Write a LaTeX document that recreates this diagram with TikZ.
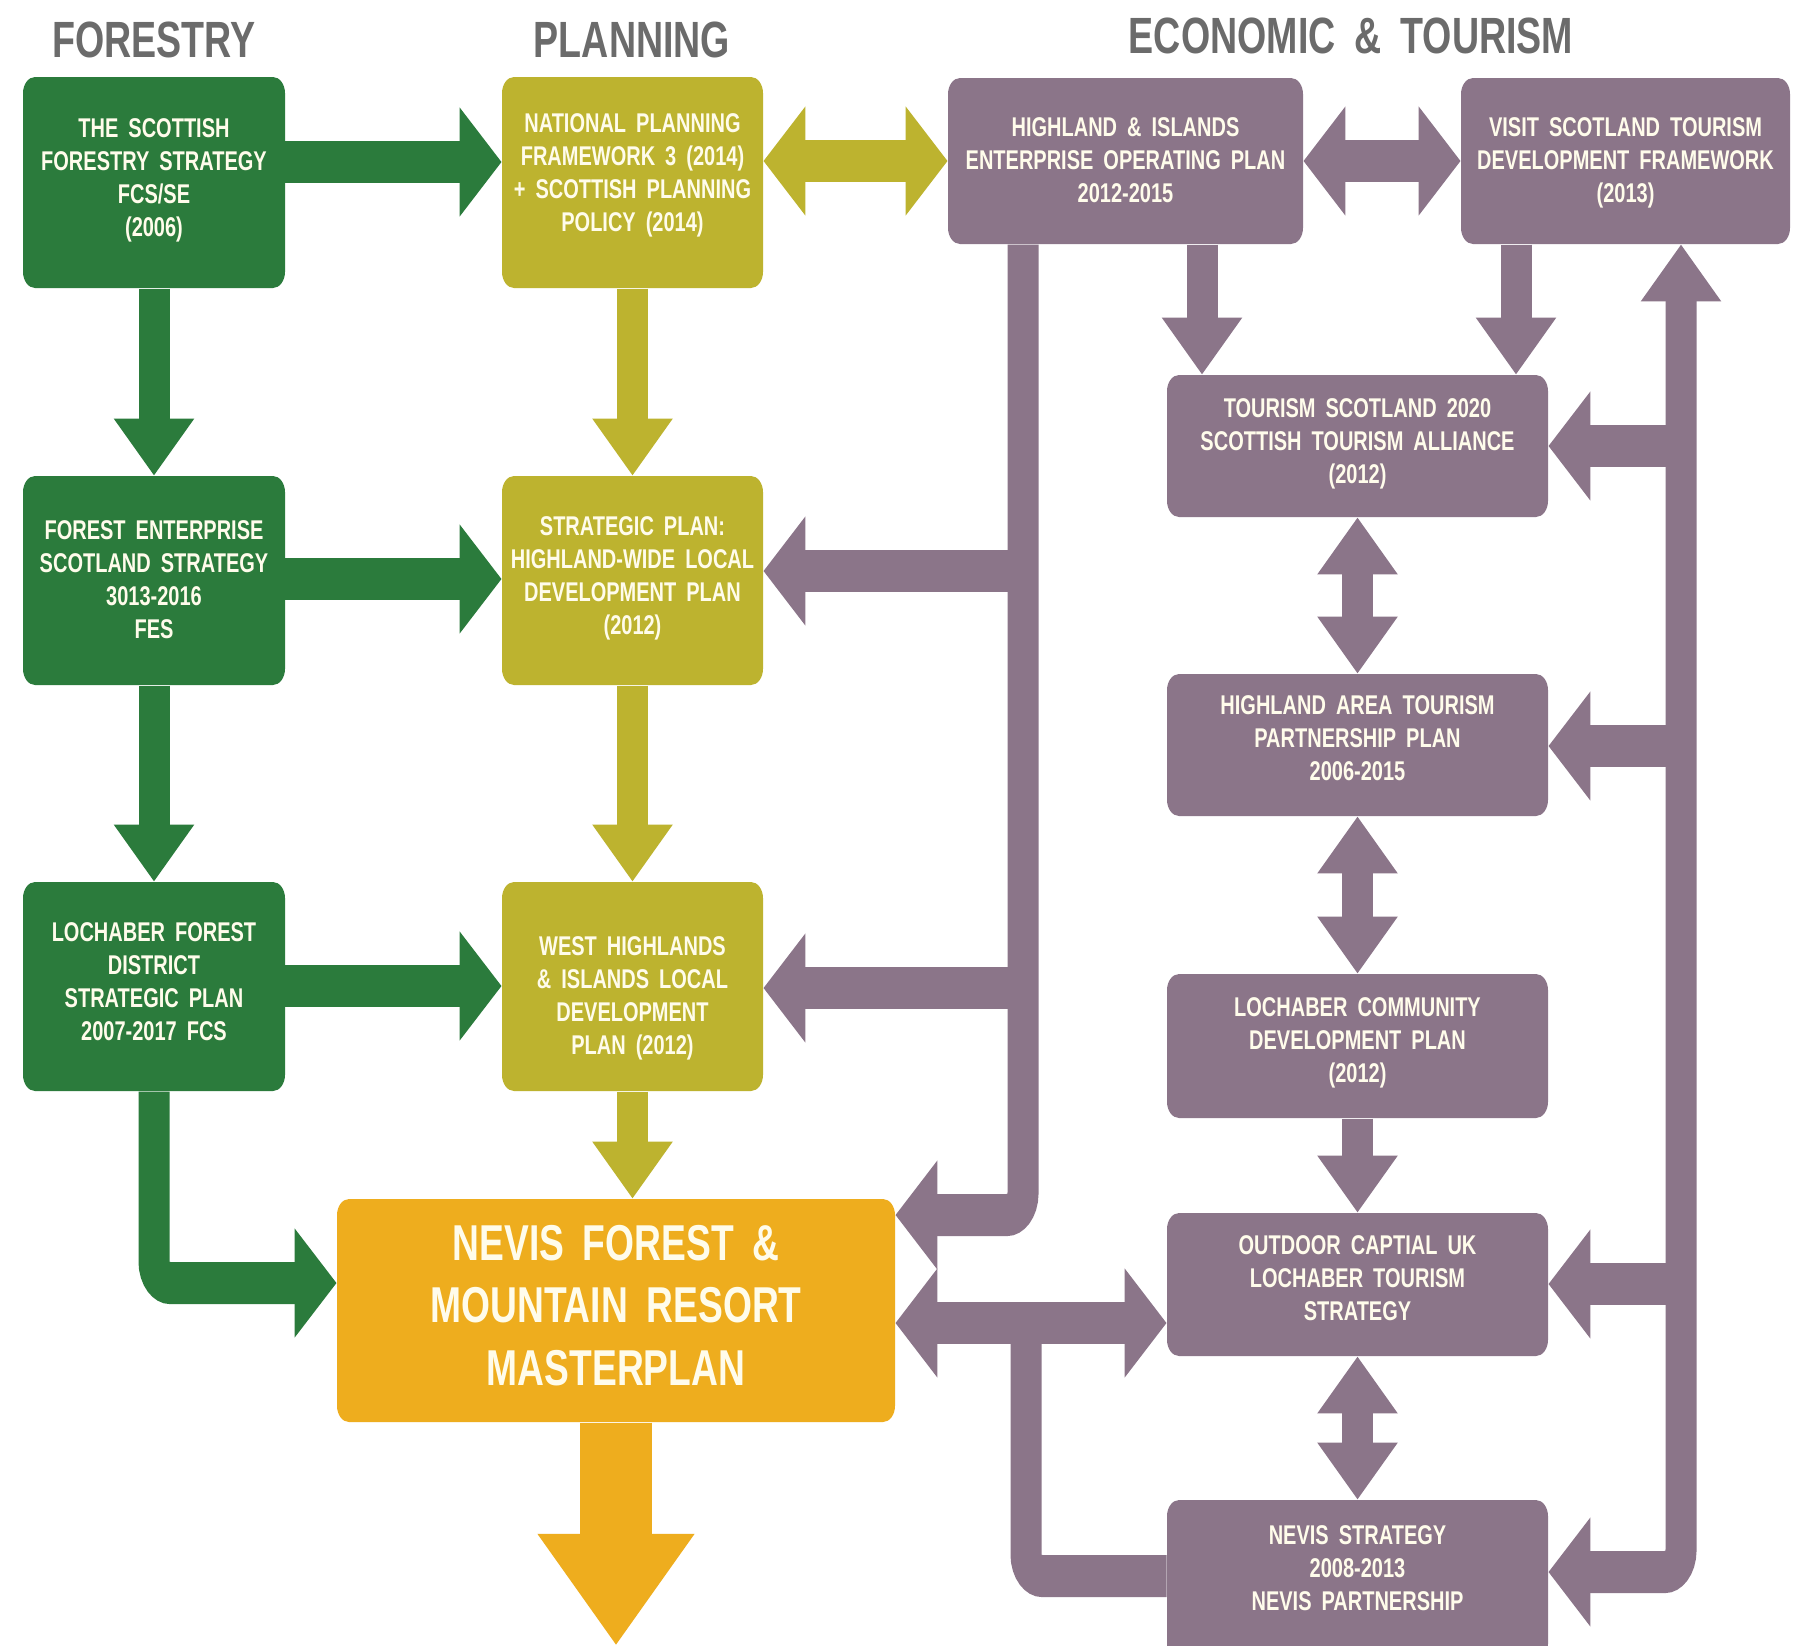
\documentclass[tikz,border=0pt]{standalone}
\usepackage{fontspec}
\setmainfont{Liberation Sans}[WordSpace=1.8]
\usetikzlibrary{arrows.meta,calc}
\definecolor{fgreen}{HTML}{2B7B3C}
\definecolor{folive}{HTML}{BDB32F}
\definecolor{fpurple}{HTML}{8B7589}
\definecolor{forange}{HTML}{EEAD1E}
\definecolor{ftitle}{HTML}{6B6B6B}
\definecolor{ftxt}{HTML}{FFFCEB}
\tikzset{
 mybox/.style={rectangle, rounded corners=6pt, inner sep=0pt},
 boxtext/.style={align=center, text=ftxt, inner sep=0pt, font=\fontsize{10}{12.2}\selectfont\bfseries},
 bigtext/.style={align=center, text=ftxt, inner sep=0pt, font=\fontsize{18.6}{23.2}\selectfont\bfseries},
 headtxt/.style={text=ftitle, anchor=base, inner sep=0pt, font=\fontsize{18.8}{20}\selectfont\bfseries},
 blk/.style={line width=15.5pt, -{Triangle[length=21pt,width=39pt]}},
 dblk/.style={line width=15.5pt, {Triangle[length=21pt,width=39pt]}-{Triangle[length=21pt,width=39pt]}},
 bus/.style={line width=15.5pt},
 bigarrow/.style={line width=36pt, -{Triangle[length=41pt,width=76pt]}},
}
% name, x1, y1, x2, y2, colour, text raise (px), text
\newcommand\bx[8]{%
  \node[mybox, fill=#6, minimum width={(#4-#2)*0.5pt}, minimum height={(#5-#3)*0.5pt/1.355}] (#1) at ({(#2+#4)/2},{(#3+#5)/2}) {};
  \node[boxtext] (#1t) at ($(#1.center)+(0,-#7)$) {#8};}

\begin{document}
\begin{tikzpicture}
\useasboundingbox[fill=white] (0,0) rectangle (904pt,-822.5pt);
\begin{scope}[x=0.5pt, y=-0.369004pt, transform canvas={yscale=1.355}]
\clip (0,0) rectangle (1808,1645);

% column titles
\node[headtxt] (h1) at (154,57) {FORESTRY};
\node[headtxt] (h2) at (632,57) {PLANNING};
\node[headtxt] (h3) at (1351,53) {ECONOMIC \& TOURISM};

% forestry
\bx{F1}{23}{77}{285}{288}{fgreen}{2.5}{THE SCOTTISH\\FORESTRY STRATEGY\\FCS/SE\\(2006)}
\bx{F2}{23}{476}{285}{685}{fgreen}{1}{FOREST ENTERPRISE\\SCOTLAND STRATEGY\\3013-2016\\FES}
\bx{F3}{23}{882}{285}{1091}{fgreen}{4.5}{LOCHABER FOREST\\DISTRICT\\STRATEGIC PLAN\\2007-2017 FCS}
% planning
\bx{P1}{502}{77}{763}{288}{folive}{7}{NATIONAL PLANNING\\FRAMEWORK 3 (2014)\\+ SCOTTISH PLANNING\\POLICY (2014)}
\bx{P2}{502}{476}{763}{685}{folive}{2.5}{STRATEGIC PLAN:\\HIGHLAND-WIDE LOCAL\\DEVELOPMENT PLAN\\(2012)}
\bx{P3}{502}{882}{763}{1091}{folive}{-11.5}{WEST HIGHLANDS\\\& ISLANDS LOCAL\\DEVELOPMENT\\PLAN (2012)}
% economic & tourism
\bx{E1}{948}{78}{1303}{244}{fpurple}{1}{HIGHLAND \& ISLANDS\\ENTERPRISE OPERATING PLAN\\2012-2015}
\bx{E2}{1461}{78}{1790}{244}{fpurple}{-1.5}{VISIT SCOTLAND TOURISM\\DEVELOPMENT FRAMEWORK\\(2013)}
\bx{T1}{1167}{375}{1548}{517}{fpurple}{2.5}{TOURISM SCOTLAND 2020\\SCOTTISH TOURISM ALLIANCE\\(2012)}
\bx{T2}{1167}{674}{1548}{816}{fpurple}{6.5}{HIGHLAND AREA TOURISM\\PARTNERSHIP PLAN\\2006-2015}
\bx{T3}{1167}{974}{1548}{1118}{fpurple}{3.5}{LOCHABER COMMUNITY\\DEVELOPMENT PLAN\\(2012)}
\bx{T4}{1167}{1213}{1548}{1356}{fpurple}{6.5}{OUTDOOR CAPTIAL UK\\LOCHABER TOURISM\\STRATEGY}
\bx{T5}{1167}{1500}{1548}{1660}{fpurple}{11.5}{NEVIS STRATEGY\\2008-2013\\NEVIS PARTNERSHIP}
% masterplan
\node[mybox, fill=forange, minimum width={558*0.5pt}, minimum height={223*0.5pt/1.355}] (M) at (616,1310.5) {};
\node[bigtext] (Mt) at ($(M.center)+(0,-5)$) {NEVIS FOREST \&\\MOUNTAIN RESORT\\MASTERPLAN};

% bus coordinates
\coordinate (rbT1) at (1681,446);
\coordinate (rbT2) at (1681,746);
\coordinate (rbT4) at (1681,1284);
\coordinate (rbC) at (1681,1572);
\coordinate (lbP2) at (1023,571);
\coordinate (lbP3) at (1023,988);
\coordinate (lbC) at (1023,1215);
\coordinate (bbC) at (1026,1576);
\coordinate (bbJ) at (1026,1323);

% green connectors
\draw[blk, fgreen] (F1.east |- 0,162) -- (P1.west |- 0,162);
\draw[blk, fgreen] (F2.east |- 0,579) -- (P2.west |- 0,579);
\draw[blk, fgreen] (F3.east |- 0,986) -- (P3.west |- 0,986);
\draw[blk, fgreen] (F1.south) -- (F2.north);
\draw[blk, fgreen] (F2.south) -- (F3.north);
\draw[blk, fgreen, rounded corners=8pt] (F3.south) -- (F3.south |- 0,1283) -- (M.west |- 0,1283);

% olive connectors
\draw[blk, folive] (P1.south) -- (P2.north);
\draw[blk, folive] (P2.south) -- (P3.north);
\draw[blk, folive] (P3.south) -- (P3.south |- M.north);
\draw[dblk, folive] (P1.east |- 0,161) -- (E1.west |- 0,161);

% purple connectors
\draw[dblk, fpurple] (E1.east |- 0,161) -- (E2.west |- 0,161);
\draw[blk, fpurple] (E1.south -| 1202,0) -- (T1.north -| 1202,0);
\draw[blk, fpurple] (E2.south -| 1516,0) -- (T1.north -| 1516,0);
\draw[dblk, fpurple, rounded corners=8pt] (T5.east |- rbC) -- (rbC) -- (E2.south -| rbC);
\draw[blk, fpurple] (rbT1) -- (T1.east |- rbT1);
\draw[blk, fpurple] (rbT2) -- (T2.east |- rbT2);
\draw[blk, fpurple] (rbT4) -- (T4.east |- rbT4);
\draw[blk, fpurple, rounded corners=8pt] (E1.south -| lbC) -- (lbC) -- (M.east |- lbC);
\draw[blk, fpurple] (lbP2) -- (P2.east |- lbP2);
\draw[blk, fpurple] (lbP3) -- (P3.east |- lbP3);
\draw[dblk, fpurple] (M.east |- bbJ) -- (T4.west |- bbJ);
\draw[bus, fpurple, rounded corners=8pt] (T5.west |- bbC) -- (bbC) -- (bbJ);
\draw[dblk, fpurple] (T1.south) -- (T2.north);
\draw[dblk, fpurple] (T2.south) -- (T3.north);
\draw[blk, fpurple] (T3.south) -- (T4.north);
\draw[dblk, fpurple] (T4.south) -- (T5.north);

% orange output
\coordinate (out) at (616,1645);
\draw[bigarrow, forange] (M.south) -- (M.south |- out);
\end{scope}
\end{tikzpicture}
\end{document}
